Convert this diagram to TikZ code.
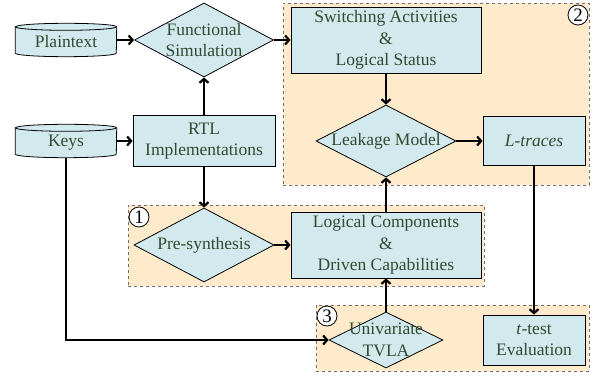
\documentclass[tikz,border=0pt]{standalone}
\usepackage{fontspec}
\setmainfont{Liberation Serif}
\usetikzlibrary{shapes.geometric,arrows.meta}
\definecolor{fillb}{HTML}{D2E9EE}
\definecolor{fillo}{HTML}{FFEACB}
\definecolor{txtc}{HTML}{2F4B30}
\definecolor{dashc}{HTML}{707070}
\begin{document}
\begin{tikzpicture}[x=1pt,y=1pt,
  lbl/.style={text=txtc, align=center, font=\fontsize{17.5}{21.5}\selectfont},
  box/.style={lbl, draw=black, line width=0.8pt, fill=fillb, inner sep=0pt},
  dia/.style={diamond, draw=black, line width=0.8pt, fill=fillb, inner sep=0pt},
  cylbase/.style={lbl, inner sep=0pt, minimum width=101pt, minimum height=33pt},
  grp/.style={draw=dashc, dashed, fill=fillo, line width=0.7pt, inner sep=0pt},
  num/.style={circle, draw=black, fill=white, line width=0.8pt, inner sep=0pt, minimum size=20pt, font=\fontsize{19}{19}\selectfont},
  arr/.style={line width=2.2pt, -{Straight Barb[length=4pt,width=9pt]}}
]
\useasboundingbox (0,0) rectangle (595,378);

% groups
\node[grp, minimum width=306pt, minimum height=182pt] (g2) at (436,284) {};
\node[grp, minimum width=356pt, minimum height=81pt] (g1) at (306,132.5) {};
\node[grp, minimum width=273pt, minimum height=66pt] (g3) at (452.5,40) {};

% cylinders
\node[cylbase] (pt) at (66,338) {};
\node[cylbase] (k) at (66,237) {};
\foreach \n in {pt,k}{
  \draw[line width=0.8pt, fill=fillb] ([yshift=-3.5pt]\n.north west) -- ([yshift=3.5pt]\n.south west)
    arc[start angle=180,end angle=360,x radius=50.5pt,y radius=3.5pt]
    -- ([yshift=-3.5pt]\n.north east)
    arc[start angle=0,end angle=180,x radius=50.5pt,y radius=3.5pt] -- cycle;
  \draw[line width=0.8pt] ([yshift=-3.5pt]\n.north west)
    arc[start angle=180,end angle=360,x radius=50.5pt,y radius=3.5pt];
}
\node[lbl] at ([yshift=-2pt]pt.center) {Plaintext};
\node[lbl] at ([yshift=-2pt]k.center) {Keys};

% diamonds
\node[dia, minimum width=139pt, minimum height=74pt,
  label={[lbl]center:Functional\\Simulation}] (fs) at (204,338) {};
\node[dia, minimum width=140pt, minimum height=72pt,
  label={[lbl]center:Leakage Model}] (lm) at (386,237) {};
\node[dia, minimum width=140pt, minimum height=74pt,
  label={[lbl]center:Pre-synthesis}] (ps) at (204,133) {};
\node[dia, minimum width=114pt, minimum height=56pt,
  label={[lbl]center:Univariate\\TVLA}] (tv) at (386,38) {};

% boxes
\node[box, minimum width=142pt, minimum height=51pt] (rtl) at (204,237) {RTL\\Implementations};
\node[box, minimum width=190pt, minimum height=66pt] (sw) at (386,338) {Switching Activities\\\&\\Logical Status};
\node[box, minimum width=102pt, minimum height=49pt] (lt) at (534,237) {\textit{L-traces}};
\node[box, minimum width=190pt, minimum height=66pt] (lc) at (386,133) {Logical Components\\\&\\Driven Capabilities};
\node[box, minimum width=102pt, minimum height=50pt] (tt) at (534,38) {\textit{t}-test\\Evaluation};

% numbers
\node[num] (n2) at (578,363) {2};
\node[num] (n1) at (139,161) {1};
\node[num] (n3) at (327,62) {3};

% connectors
\draw[arr] (pt.east) -- (fs.west);
\draw[arr] (fs.east) -- (sw.west);
\draw[arr] (rtl.north) -- (fs.south);
\draw[arr] (k.east) -- (rtl.west);
\draw[arr] (rtl.south) -- (ps.north);
\draw[arr] (ps.east) -- (lc.west);
\draw[arr] (lc.north) -- (lm.south);
\draw[arr] (sw.south) -- (lm.north);
\draw[arr] (lm.east) -- (lt.west);
\draw[arr] (lt.south) -- (tt.north);
\draw[arr] (tv.north) -- (lc.south);
\draw[arr] (k.south) |- (tv.west);
\end{tikzpicture}
\end{document}
